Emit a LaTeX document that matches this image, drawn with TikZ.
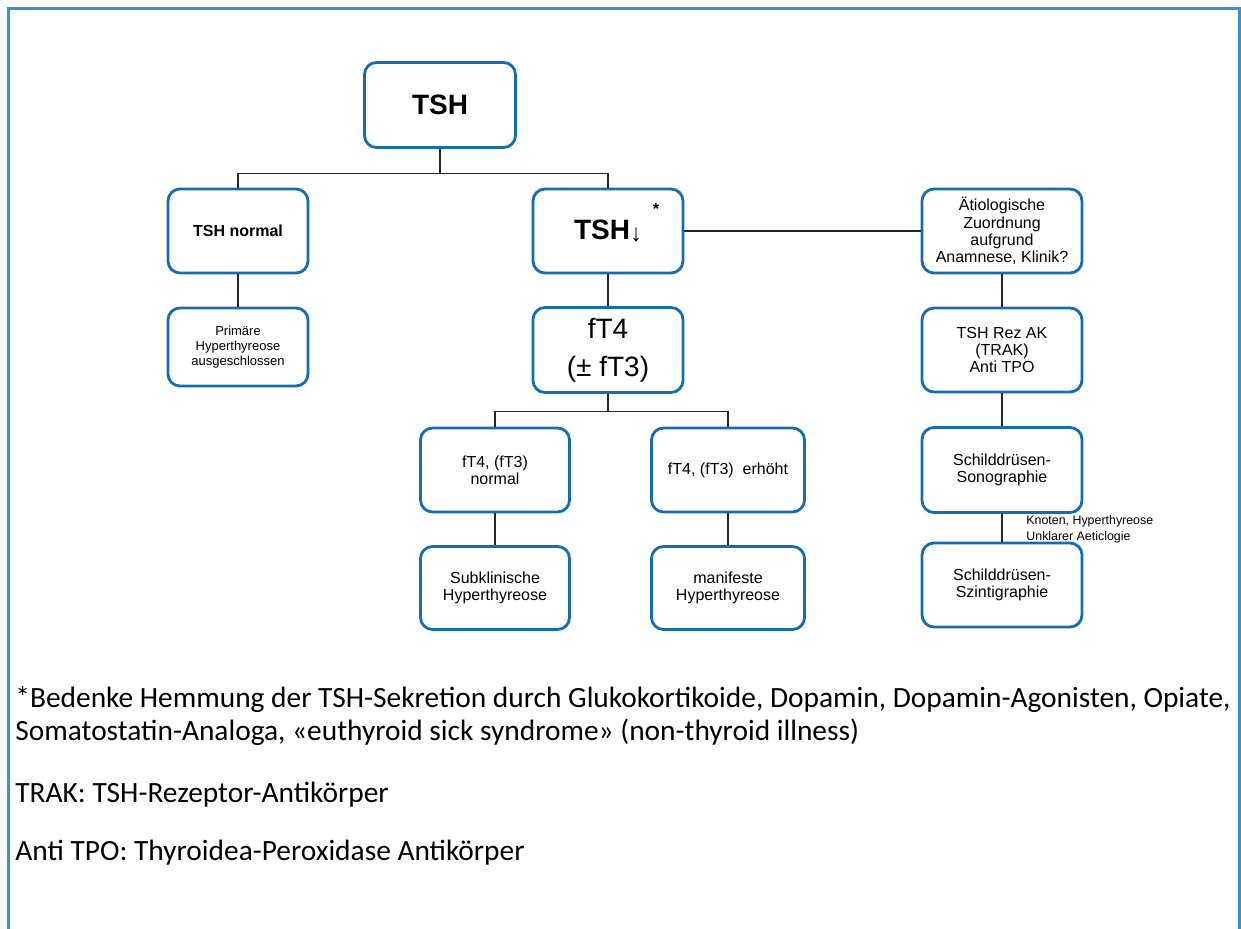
\documentclass[tikz,border=0pt]{standalone}
\usepackage{fontspec}
\setmainfont{Liberation Sans}
\newfontfamily\notefont{Carlito}
\usepackage{xcolor}
\usepackage{tikz}
\definecolor{boxblue}{RGB}{22,108,178}
\definecolor{frameblue}{RGB}{48,150,210}
\tikzset{
    tnode/.style = {align=center, inner sep=0pt, text centered},
    box_node/.style 2 args = {tnode, rectangle, rounded corners=6pt, draw=boxblue, line width=1.4pt,
        fill=white, minimum width=#1, minimum height=#2},
    big_text/.style = {font=\fontsize{14}{19}\selectfont},
    mid_text/.style = {font=\fontsize{8}{8.6}\selectfont},
    small_text/.style = {font=\fontsize{6.5}{7.6}\selectfont},
    link/.style = {draw=black!85, line width=0.6pt},
    note/.style = {anchor=west, align=left, inner sep=0pt, font=\notefont\fontsize{14.7}{16.5}\selectfont}
}

\begin{document}
\begin{tikzpicture}[x=0.5pt, y=-0.5pt]
    \useasboundingbox (0,0) rectangle (1241,929);
    \draw [frameblue, line width=1.5pt] (8,929) -- (8,9) -- (1239,9) -- (1239,929);

    % top
    \node (tsh) [box_node={75.5pt}{42.5pt}, big_text, font=\bfseries\fontsize{14}{18}\selectfont] at (440,105) {TSH};
    \node (tshnormal) [box_node={70pt}{42pt}, mid_text, font=\bfseries\fontsize{8}{9}\selectfont] at (238,231) {TSH normal};
    \node (tshlow) [box_node={75pt}{42pt}, font=\bfseries\fontsize{14}{18}\selectfont] at (608,231) {TSH\raisebox{-1pt}{\fontsize{12}{12}\selectfont↓}};
    \node (star) [tnode, font=\bfseries\fontsize{8}{8}\selectfont] at (656,209) {*};
    \node (aetio) [box_node={80pt}{42pt}, mid_text] at (1002,231) {Ätiologische\\Zuordnung\\aufgrund\\Anamnese, Klinik?};

    % second row
    \node (primaer) [box_node={70pt}{39pt}, small_text] at (238,347) {Primäre\\Hyperthyreose\\ausgeschlossen};
    \node (ft4) [box_node={75pt}{42.5pt}, big_text] at (608,350) {fT4\\(± fT3)};
    \node (trak) [box_node={80pt}{42pt}, mid_text] at (1002,350) {TSH Rez AK\\(TRAK)\\Anti TPO};

    % third row
    \node (ft4normal) [box_node={74.5pt}{42pt}, mid_text] at (495,470) {fT4, (fT3)\\normal};
    \node (ft4high) [box_node={76.5pt}{42pt}, mid_text] at (728,470) {fT4,\ (fT3)\ \ erhöht};
    \node (sono) [box_node={80pt}{42.5pt}, mid_text] at (1002,470) {Schilddrüsen-\\Sonographie};

    % bottom row
    \node (subklin) [box_node={74.5pt}{41.5pt}, mid_text] at (495,588) {Subklinische\\Hyperthyreose};
    \node (manifest) [box_node={76.5pt}{41.5pt}, mid_text] at (728,588) {manifeste\\Hyperthyreose};
    \node (szinti) [box_node={80pt}{42pt}, mid_text] at (1002,585) {Schilddrüsen-\\Szintigraphie};
    \node (knoten) [tnode, anchor=west, align=left, font=\fontsize{6.2}{8}\selectfont] at (1026,529) {Knoten, Hyperthyreose\\Unklarer Aeticlogie};

    % connectors
    \draw [link] (tsh.south) -- ++(0,25) coordinate (split);
    \draw [link] (tshnormal.north) |- (split) -| (tshlow.north);
    \draw [link] (tshnormal) -- (primaer);
    \draw [link] (tshlow) -- (ft4);
    \draw [link] (tshlow) -- (aetio);
    \draw [link] (ft4.south) -- ++(0,18) coordinate (fsplit);
    \draw [link] (ft4normal.north) |- (fsplit) -| (ft4high.north);
    \draw [link] (ft4normal) -- (subklin);
    \draw [link] (ft4high) -- (manifest);
    \draw [link] (aetio) -- (trak);
    \draw [link] (trak) -- (sono);
    \draw [link] (sono) -- (szinti);

    % footnotes
    \node (note1) [note] at (15,716) {*Bedenke Hemmung der TSH-Sekretion durch Glukokortikoide, Dopamin, Dopamin-Agonisten, Opiate,\\Somatostatin-Analoga, «euthyroid sick syndrome» (non-thyroid illness)};
    \node (note2) [note] at (15,795) {TRAK: TSH-Rezeptor-Antikörper};
    \node (note3) [note] at (15,853) {Anti TPO: Thyroidea-Peroxidase Antikörper};
\end{tikzpicture}
\end{document}
